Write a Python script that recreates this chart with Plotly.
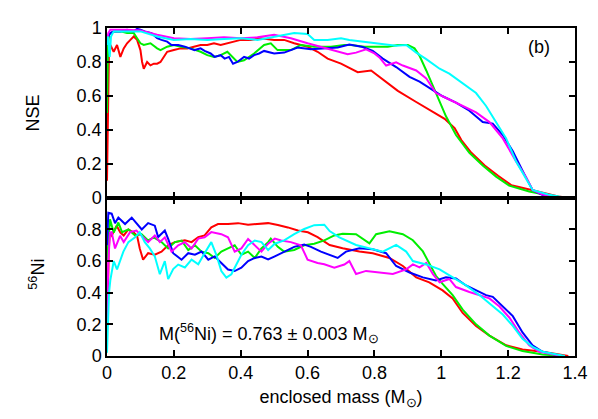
import plotly.graph_objects as go

# ---------------- NSE panel (top) ----------------
nse_red_x = [0, 0.003, 0.006, 0.01, 0.02, 0.03, 0.04, 0.05, 0.06, 0.07, 0.08, 0.09, 0.1, 0.105, 0.11, 0.12, 0.13, 0.14, 0.15, 0.16, 0.17, 0.18, 0.2, 0.22, 0.24, 0.26, 0.28, 0.3, 0.32, 0.34, 0.36, 0.38, 0.4, 0.43, 0.46, 0.5, 0.53, 0.56, 0.6, 0.63, 0.66, 0.7, 0.75, 0.79, 0.83, 0.87, 0.92, 0.97, 1.01, 1.04, 1.06, 1.09, 1.13, 1.17, 1.21, 1.27, 1.31, 1.35, 1.38]
nse_red_y = [0.1, 0.7, 0.88, 0.9, 0.86, 0.9, 0.83, 0.88, 0.91, 0.93, 0.95, 0.93, 0.87, 0.8, 0.76, 0.8, 0.78, 0.79, 0.79, 0.8, 0.83, 0.86, 0.87, 0.88, 0.88, 0.89, 0.9, 0.9, 0.91, 0.9, 0.91, 0.92, 0.93, 0.93, 0.94, 0.93, 0.93, 0.91, 0.89, 0.86, 0.82, 0.79, 0.74, 0.75, 0.69, 0.63, 0.57, 0.51, 0.465, 0.41, 0.34, 0.265, 0.19, 0.13, 0.074, 0.046, 0.027, 0.008, 0.0]

nse_green_x = [0, 0.003, 0.006, 0.01, 0.02, 0.04, 0.06, 0.08, 0.09, 0.1, 0.11, 0.13, 0.15, 0.16, 0.18, 0.2, 0.22, 0.25, 0.28, 0.3, 0.32, 0.34, 0.36, 0.37, 0.39, 0.41, 0.44, 0.47, 0.49, 0.51, 0.55, 0.58, 0.62, 0.67, 0.71, 0.73, 0.77, 0.8, 0.84, 0.87, 0.9, 0.92, 0.935, 0.955, 0.975, 0.995, 1.014, 1.044, 1.084, 1.124, 1.164, 1.203, 1.263, 1.323, 1.37]
nse_green_y = [0.5, 0.9, 0.96, 0.97, 0.98, 0.98, 0.97, 0.97, 0.94, 0.91, 0.9, 0.91, 0.88, 0.87, 0.89, 0.9, 0.89, 0.88, 0.86, 0.84, 0.83, 0.84, 0.86, 0.84, 0.8, 0.81, 0.85, 0.9, 0.91, 0.87, 0.87, 0.9, 0.89, 0.89, 0.9, 0.9, 0.89, 0.89, 0.89, 0.9, 0.9, 0.88, 0.836, 0.75, 0.655, 0.56, 0.48, 0.37, 0.265, 0.19, 0.125, 0.072, 0.037, 0.013, 0.0]

nse_blue_x = [0, 0.004, 0.01, 0.02, 0.04, 0.06, 0.08, 0.09, 0.1, 0.113, 0.133, 0.15, 0.163, 0.18, 0.193, 0.213, 0.233, 0.25, 0.262, 0.28, 0.292, 0.31, 0.322, 0.34, 0.352, 0.365, 0.377, 0.39, 0.41, 0.425, 0.44, 0.455, 0.47, 0.5, 0.53, 0.55, 0.57, 0.61, 0.65, 0.69, 0.725, 0.765, 0.795, 0.825, 0.865, 0.905, 0.935, 0.964, 1.004, 1.044, 1.084, 1.124, 1.154, 1.184, 1.214, 1.243, 1.273, 1.303, 1.36]
nse_blue_y = [0.9, 0.95, 0.97, 0.98, 0.98, 0.99, 0.98, 0.995, 0.99, 0.98, 0.97, 0.94, 0.93, 0.92, 0.9, 0.9, 0.89, 0.88, 0.87, 0.88, 0.865, 0.85, 0.83, 0.84, 0.82, 0.83, 0.79, 0.8, 0.83, 0.82, 0.84, 0.85, 0.865, 0.85, 0.855, 0.87, 0.885, 0.875, 0.88, 0.885, 0.903, 0.888, 0.865, 0.82, 0.77, 0.712, 0.684, 0.646, 0.598, 0.56, 0.513, 0.446, 0.437, 0.37, 0.274, 0.16, 0.046, 0.017, 0.0]

nse_magenta_x = [0, 0.004, 0.01, 0.03, 0.06, 0.1, 0.13, 0.15, 0.2, 0.25, 0.3, 0.35, 0.4, 0.45, 0.5, 0.55, 0.6, 0.65, 0.7, 0.72, 0.745, 0.775, 0.8, 0.815, 0.835, 0.865, 0.885, 0.925, 0.955, 0.984, 1.024, 1.064, 1.104, 1.144, 1.184, 1.223, 1.253, 1.273, 1.303, 1.36]
nse_magenta_y = [0.93, 0.97, 0.99, 0.99, 0.99, 0.985, 0.97, 0.96, 0.94, 0.935, 0.94, 0.945, 0.94, 0.945, 0.96, 0.94, 0.91, 0.884, 0.855, 0.845, 0.855, 0.874, 0.85, 0.827, 0.779, 0.798, 0.779, 0.75, 0.703, 0.617, 0.579, 0.541, 0.503, 0.446, 0.35, 0.217, 0.122, 0.046, 0.02, 0.0]

nse_cyan_x = [0, 0.003, 0.008, 0.012, 0.02, 0.05, 0.1, 0.15, 0.2, 0.25, 0.3, 0.35, 0.4, 0.45, 0.5, 0.56, 0.6, 0.62, 0.66, 0.7, 0.725, 0.765, 0.8, 0.825, 0.865, 0.895, 0.925, 0.955, 0.995, 1.024, 1.064, 1.104, 1.134, 1.164, 1.194, 1.223, 1.253, 1.273, 1.32, 1.37]
nse_cyan_y = [0.9, 0.95, 0.83, 0.95, 0.98, 0.98, 0.98, 0.95, 0.93, 0.935, 0.93, 0.935, 0.94, 0.93, 0.95, 0.97, 0.965, 0.93, 0.93, 0.94, 0.93, 0.92, 0.915, 0.905, 0.895, 0.9, 0.855, 0.817, 0.76, 0.731, 0.674, 0.617, 0.541, 0.446, 0.35, 0.217, 0.112, 0.046, 0.02, 0.0]

# ---------------- 56Ni panel (bottom) ----------------
ni_red_x = [0, 0.002, 0.005, 0.008, 0.014, 0.029, 0.04, 0.05, 0.064, 0.08, 0.09, 0.098, 0.108, 0.123, 0.143, 0.163, 0.183, 0.203, 0.233, 0.253, 0.273, 0.292, 0.312, 0.332, 0.362, 0.392, 0.422, 0.452, 0.482, 0.511, 0.541, 0.571, 0.601, 0.63, 0.666, 0.705, 0.755, 0.795, 0.845, 0.885, 0.925, 0.964, 1.004, 1.034, 1.064, 1.104, 1.144, 1.194, 1.243, 1.303, 1.35, 1.38]
ni_red_y = [0.27, 0.3, 0.65, 0.78, 0.762, 0.824, 0.78, 0.762, 0.8, 0.78, 0.76, 0.68, 0.609, 0.65, 0.64, 0.66, 0.7, 0.72, 0.731, 0.72, 0.752, 0.762, 0.813, 0.834, 0.834, 0.84, 0.83, 0.834, 0.84, 0.828, 0.813, 0.793, 0.782, 0.752, 0.702, 0.681, 0.66, 0.65, 0.62, 0.569, 0.497, 0.466, 0.415, 0.364, 0.272, 0.19, 0.129, 0.068, 0.041, 0.027, 0.01, 0.0]

ni_green_x = [0, 0.004, 0.009, 0.02, 0.034, 0.045, 0.064, 0.084, 0.103, 0.123, 0.14, 0.163, 0.183, 0.203, 0.223, 0.243, 0.263, 0.283, 0.303, 0.322, 0.342, 0.362, 0.382, 0.402, 0.422, 0.442, 0.462, 0.482, 0.49, 0.511, 0.53, 0.56, 0.59, 0.62, 0.65, 0.68, 0.705, 0.745, 0.785, 0.805, 0.845, 0.885, 0.915, 0.945, 0.964, 0.984, 1.004, 1.034, 1.064, 1.104, 1.144, 1.194, 1.243, 1.303, 1.36]
ni_green_y = [0.6, 0.75, 0.864, 0.78, 0.844, 0.783, 0.8, 0.762, 0.77, 0.731, 0.75, 0.72, 0.68, 0.72, 0.73, 0.67, 0.7, 0.66, 0.65, 0.62, 0.66, 0.68, 0.7, 0.64, 0.66, 0.62, 0.68, 0.72, 0.742, 0.69, 0.66, 0.67, 0.7, 0.71, 0.731, 0.762, 0.773, 0.77, 0.712, 0.77, 0.788, 0.77, 0.732, 0.661, 0.589, 0.507, 0.456, 0.385, 0.293, 0.2, 0.129, 0.064, 0.031, 0.01, 0.0]

ni_blue_x = [0, 0.002, 0.004, 0.014, 0.024, 0.034, 0.054, 0.074, 0.094, 0.104, 0.123, 0.143, 0.153, 0.173, 0.183, 0.198, 0.223, 0.243, 0.263, 0.283, 0.303, 0.322, 0.342, 0.362, 0.382, 0.402, 0.422, 0.442, 0.462, 0.482, 0.502, 0.53, 0.56, 0.59, 0.61, 0.64, 0.666, 0.69, 0.715, 0.755, 0.795, 0.835, 0.865, 0.905, 0.945, 0.984, 1.014, 1.044, 1.074, 1.104, 1.134, 1.154, 1.184, 1.214, 1.243, 1.273, 1.303, 1.36]
ni_blue_y = [0.7, 0.88, 0.905, 0.9, 0.84, 0.875, 0.834, 0.875, 0.824, 0.8, 0.84, 0.824, 0.752, 0.793, 0.74, 0.65, 0.609, 0.65, 0.64, 0.66, 0.609, 0.63, 0.588, 0.547, 0.537, 0.558, 0.6, 0.62, 0.629, 0.61, 0.63, 0.66, 0.69, 0.705, 0.69, 0.66, 0.64, 0.62, 0.66, 0.681, 0.675, 0.65, 0.569, 0.528, 0.497, 0.477, 0.497, 0.49, 0.446, 0.415, 0.385, 0.374, 0.313, 0.252, 0.149, 0.068, 0.027, 0.0]

ni_magenta_x = [0, 0.002, 0.004, 0.009, 0.014, 0.024, 0.039, 0.05, 0.069, 0.088, 0.108, 0.123, 0.143, 0.158, 0.173, 0.193, 0.213, 0.233, 0.253, 0.273, 0.292, 0.312, 0.342, 0.362, 0.382, 0.402, 0.422, 0.442, 0.462, 0.482, 0.502, 0.521, 0.55, 0.58, 0.6, 0.63, 0.65, 0.68, 0.71, 0.725, 0.745, 0.775, 0.815, 0.855, 0.895, 0.915, 0.935, 0.955, 0.975, 0.995, 1.024, 1.044, 1.084, 1.114, 1.144, 1.174, 1.204, 1.233, 1.263, 1.293, 1.36]
ni_magenta_y = [0.2, 0.5, 0.6, 0.78, 0.783, 0.68, 0.76, 0.72, 0.783, 0.793, 0.75, 0.72, 0.762, 0.72, 0.75, 0.66, 0.7, 0.72, 0.68, 0.742, 0.75, 0.783, 0.77, 0.75, 0.66, 0.68, 0.74, 0.7, 0.66, 0.71, 0.742, 0.73, 0.72, 0.7, 0.609, 0.588, 0.58, 0.558, 0.578, 0.6, 0.518, 0.538, 0.528, 0.518, 0.548, 0.579, 0.56, 0.589, 0.518, 0.466, 0.487, 0.436, 0.405, 0.385, 0.364, 0.313, 0.242, 0.149, 0.068, 0.027, 0.0]

ni_cyan_x = [0, 0.003, 0.006, 0.01, 0.02, 0.03, 0.04, 0.049, 0.064, 0.084, 0.098, 0.113, 0.128, 0.143, 0.158, 0.173, 0.183, 0.198, 0.213, 0.233, 0.253, 0.273, 0.292, 0.312, 0.327, 0.342, 0.357, 0.372, 0.387, 0.402, 0.422, 0.442, 0.462, 0.482, 0.502, 0.53, 0.56, 0.59, 0.62, 0.65, 0.666, 0.695, 0.745, 0.785, 0.825, 0.865, 0.895, 0.915, 0.955, 0.995, 1.034, 1.074, 1.114, 1.154, 1.184, 1.214, 1.243, 1.273, 1.303, 1.37]
ni_cyan_y = [0.02, 0.25, 0.4, 0.48, 0.6, 0.547, 0.6, 0.66, 0.72, 0.75, 0.783, 0.72, 0.68, 0.63, 0.517, 0.6, 0.486, 0.55, 0.578, 0.56, 0.609, 0.58, 0.65, 0.72, 0.64, 0.537, 0.496, 0.517, 0.578, 0.64, 0.7, 0.73, 0.72, 0.67, 0.71, 0.731, 0.77, 0.803, 0.827, 0.83, 0.79, 0.75, 0.702, 0.681, 0.66, 0.702, 0.66, 0.6, 0.579, 0.548, 0.497, 0.446, 0.385, 0.313, 0.262, 0.19, 0.109, 0.058, 0.027, 0.0]

colors = ["#ff0000", "#00ee00", "#0000ff", "#ff00ff", "#00ffff"]
nse_series = [(nse_red_x, nse_red_y), (nse_green_x, nse_green_y), (nse_blue_x, nse_blue_y),
              (nse_magenta_x, nse_magenta_y), (nse_cyan_x, nse_cyan_y)]
ni_series = [(ni_red_x, ni_red_y), (ni_green_x, ni_green_y), (ni_blue_x, ni_blue_y),
             (ni_magenta_x, ni_magenta_y), (ni_cyan_x, ni_cyan_y)]

x_ticks = [0, 0.2, 0.4, 0.6, 0.8, 1, 1.2, 1.4]
nse_ticks = [0, 0.2, 0.4, 0.6, 0.8, 1]
ni_ticks = [0, 0.2, 0.4, 0.6, 0.8]

FONT = "Liberation Sans, Arial, Helvetica, sans-serif"
FS = 18

fig = go.Figure()
for (xs, ys), c in zip(nse_series, colors):
    fig.add_trace(go.Scatter(x=xs, y=ys, mode="lines", line=dict(color=c, width=2),
                             xaxis="x", yaxis="y", showlegend=False))
for (xs, ys), c in zip(ni_series, colors):
    fig.add_trace(go.Scatter(x=xs, y=ys, mode="lines", line=dict(color=c, width=2),
                             xaxis="x2", yaxis="y2", showlegend=False))

split = 163 / 338
axis_common = dict(showgrid=False, zeroline=False, showline=True, linecolor="black", linewidth=1.5,
                   mirror="ticks", ticks="inside", ticklen=6, tickwidth=1.5, tickcolor="black",
                   tickfont=dict(family=FONT, size=FS, color="black"))

# the page body adds an 8px offset; figure size and margins compensate for it
fig.update_layout(
    width=590, height=411,
    margin=dict(l=99, r=22, t=10, b=63),
    paper_bgcolor="white", plot_bgcolor="white",
    font=dict(family=FONT, size=FS, color="black"),
    xaxis=dict(anchor="y", domain=[0, 1], range=[0, 1.4], tickvals=x_ticks, showticklabels=False, **axis_common),
    yaxis=dict(anchor="x", domain=[split, 1], range=[0, 1], tickvals=nse_ticks, **axis_common),
    xaxis2=dict(anchor="y2", domain=[0, 1], range=[0, 1.4], tickvals=x_ticks,
                title=dict(text="enclosed mass (M<sub>⊙</sub>)", standoff=8,
                           font=dict(family=FONT, size=FS)), **axis_common),
    yaxis2=dict(anchor="x2", domain=[0, split], range=[0, 1], tickvals=ni_ticks, **axis_common),
    annotations=[
        dict(text="NSE", xref="paper", yref="paper", x=(33 - 107) / 469, y=(356 - 106) / 338,
             textangle=-90, showarrow=False, xanchor="center", yanchor="middle",
             font=dict(family=FONT, size=FS)),
        dict(text="<sup>56</sup>Ni", xref="paper", yref="paper", x=(37 - 107) / 469, y=(356 - 272) / 338,
             textangle=-90, showarrow=False, xanchor="center", yanchor="middle",
             font=dict(family=FONT, size=FS)),
        dict(text="(b)", xref="x", yref="y", x=1.293, y=0.89, showarrow=False,
             xanchor="center", yanchor="middle", font=dict(family=FONT, size=FS)),
        dict(text="M(<sup>56</sup>Ni) = 0.763 ± 0.003 M<sub>⊙</sub>", xref="x2", yref="y2",
             x=0.149, y=0.14, showarrow=False, xanchor="left", yanchor="middle",
             font=dict(family=FONT, size=FS)),
    ],
)

fig.write_html("out.html")
